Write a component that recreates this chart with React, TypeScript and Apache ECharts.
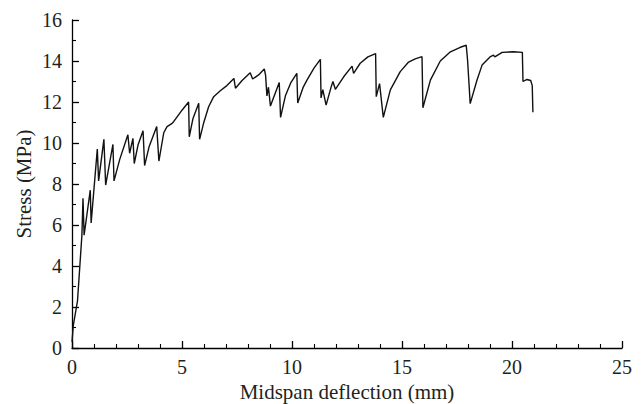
import React, { useEffect, useRef } from "react";
import * as echarts from "echarts";

const deflection: number[] = [
  0, 0.06, 0.25, 0.45, 0.5, 0.55, 0.83, 0.87, 1.15, 1.21, 1.45, 1.53, 1.86, 1.91, 2.17, 2.54, 2.62, 2.77, 2.83, 3.0,
  3.23, 3.3, 3.5, 3.85, 3.95, 4.17, 4.32, 4.55, 4.62, 5.0, 5.3, 5.33, 5.5, 5.76, 5.8, 5.98, 6.21, 6.44, 6.74, 7.04,
  7.36, 7.43, 7.73, 8.1, 8.21, 8.48, 8.74, 8.8, 8.86, 8.93, 9.02, 9.42, 9.48, 9.7, 9.95, 10.22, 10.26, 10.5, 10.68, 11.0,
  11.29, 11.32, 11.4, 11.55, 11.77, 11.86, 11.97, 12.35, 12.73, 12.8, 13.1, 13.45, 13.8, 13.83, 13.98, 14.15, 14.47, 14.92, 15.3, 15.6,
  15.91, 15.95, 16.29, 16.74, 17.2, 17.65, 17.92, 17.98, 18.1, 18.41, 18.64, 19.0, 19.16, 19.22, 19.55, 20.07, 20.47, 20.5, 20.68, 20.85,
  20.92, 20.95,
];

const stress: number[] = [
  0.3, 1.1, 2.3, 5.5, 7.3, 5.5, 7.7, 6.1, 9.7, 8.15, 10.18, 7.95, 9.93, 8.15, 9.2, 10.4, 9.5, 10.23, 9.0, 9.9,
  10.6, 8.9, 9.8, 10.8, 9.12, 10.5, 10.8, 10.96, 11.04, 11.6, 12.0, 10.3, 11.2, 11.94, 10.18, 10.96, 11.77, 12.26, 12.55, 12.8,
  13.15, 12.67, 13.05, 13.43, 13.12, 13.32, 13.61, 13.3, 12.3, 12.72, 11.8, 12.95, 11.25, 12.3, 12.95, 13.4, 11.95, 12.7, 13.07, 13.65,
  14.08, 12.2, 12.6, 11.85, 12.7, 13.0, 12.62, 13.23, 13.75, 13.4, 13.89, 14.2, 14.36, 12.26, 12.9, 11.25, 12.59, 13.48, 13.95, 14.1,
  14.21, 11.72, 13.07, 14.0, 14.45, 14.67, 14.77, 14.05, 11.92, 13.07, 13.8, 14.2, 14.29, 14.2, 14.42, 14.45, 14.42, 13.0, 13.1, 13.05,
  12.8, 11.5,
];

const xName = "Midspan deflection (mm)";
const yName = "Stress (MPa)";

const FONT = "Liberation Serif";
const TEXT_COLOR = "#231f20";

export default function App() {
  const ref = useRef<HTMLDivElement>(null);
  useEffect(() => {
    if (!ref.current) return;
    const chart = echarts.init(ref.current, undefined, { renderer: "svg" });
    const data = deflection.map((x, i) => [x, stress[i]]);
    const axisCommon = {
      axisLine: { show: true, lineStyle: { color: "#000", width: 1.3 } },
      axisTick: { show: true, inside: true, length: 7, lineStyle: { color: "#000", width: 1.3 } },
      minorTick: { show: true, length: 4, lineStyle: { color: "#000", width: 1.1 } },
      splitLine: { show: false },
      nameLocation: "middle" as const,
      nameMoveOverlap: false,
      nameTextStyle: { fontFamily: FONT, fontSize: 21, color: TEXT_COLOR },
    };
    chart.setOption({
      animation: false,
      backgroundColor: "#fff",
      grid: {
        left: 72,
        right: 22,
        top: 20,
        bottom: 56,
        containLabel: false,
        outerBoundsMode: "none",
      },
      xAxis: {
        type: "value",
        min: 0,
        max: 25,
        interval: 5,
        name: xName,
        nameGap: 33,
        ...axisCommon,
        minorTick: { ...axisCommon.minorTick, splitNumber: 5 },
        axisLabel: { fontFamily: FONT, fontSize: 20, color: TEXT_COLOR, margin: 9 },
      },
      yAxis: {
        type: "value",
        min: 0,
        max: 16,
        interval: 2,
        name: yName,
        nameGap: 38,
        nameRotate: 90,
        ...axisCommon,
        minorTick: { ...axisCommon.minorTick, splitNumber: 2 },
        axisLabel: { fontFamily: FONT, fontSize: 20, color: TEXT_COLOR, margin: 10 },
      },
      series: [
        {
          type: "line",
          data,
          showSymbol: false,
          symbol: "none",
          lineStyle: { color: "#111", width: 1.4 },
        },
      ],
    });
    return () => chart.dispose();
  }, []);
  return (
    <div
      ref={ref}
      style={{ position: "fixed", left: 0, top: 0, width: 644, height: 404 }}
    />
  );
}
